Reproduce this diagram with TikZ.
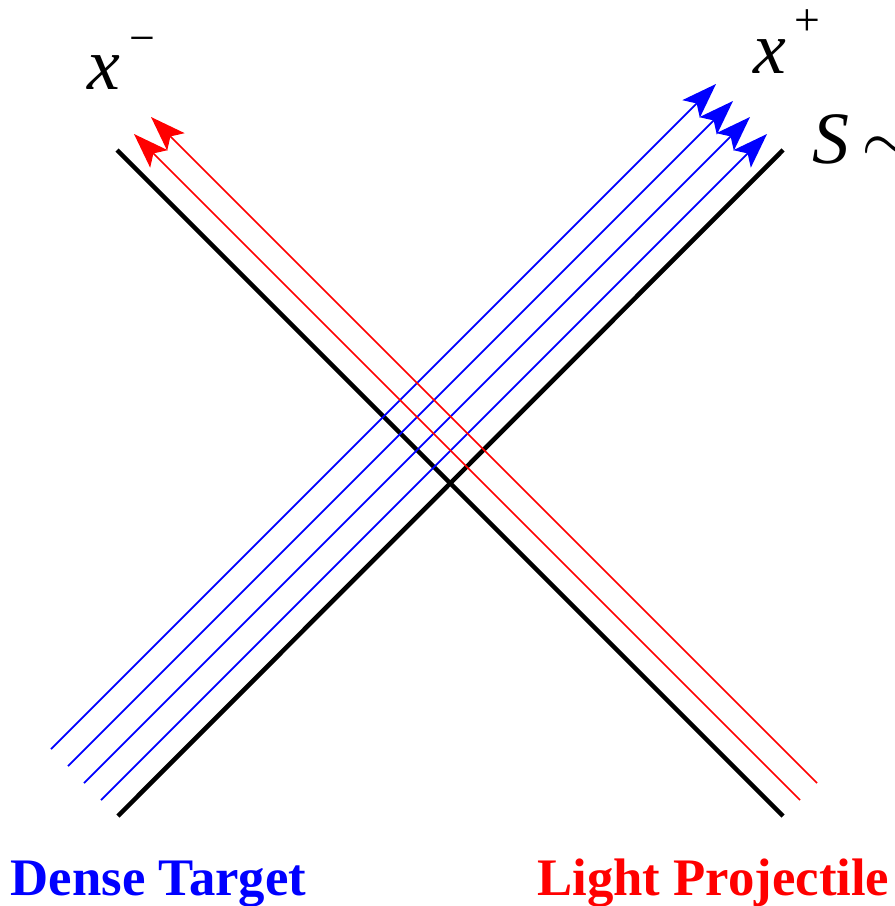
\documentclass[tikz,border=0pt]{standalone}
\usepackage{fontspec}
\setmainfont{Liberation Serif}
\usetikzlibrary{arrows.meta}
\definecolor{target}{RGB}{0,0,255}
\definecolor{projectile}{RGB}{255,0,0}

\begin{document}
\begin{tikzpicture}[
    x=0.01cm, y=-0.01cm,
    cone/.style={line width=1.3pt, color=black},
    targetray/.style={line width=0.5pt, color=target,
                      -{Stealth[length=10pt,width=7pt,inset=2.2pt]}},
    projray/.style={line width=0.5pt, color=projectile,
                    -{Stealth[length=10pt,width=7pt,inset=2.2pt]}},
    axislabel/.style={font=\fontsize{21}{21}\selectfont, inner sep=0pt,
                      anchor=base west},
    caption/.style={font=\fontsize{15}{15}\selectfont\bfseries,
                    inner sep=0pt},
]
\useasboundingbox (0,0) rectangle (895,906);

% ==========================================================
% Light-cone axes
% ==========================================================
\draw[cone] (118,816) -- (783,150);
\draw[cone] (117,150) -- (783,816);

% -------- Dense target: rays along x^+ -----------
\draw[targetray] (51,749)  -- (716,84);
\draw[targetray] (68,766)  -- (733,101);
\draw[targetray] (84,783)  -- (750,117);
\draw[targetray] (101,800) -- (767,134);

% -------- Light projectile: rays along x^- -----------
\draw[projray] (800,800) -- (134,134);
\draw[projray] (817,783) -- (151,117);

% ==========================================================
% Labels
% ==========================================================
\node[axislabel] (xminus) at (87,90)
    {\textit{x}\hspace{0.09cm}\raisebox{0.36cm}{\fontsize{13}{13}\selectfont −}};
\node[axislabel] (xplus) at (753,73)
    {\textit{x}\hspace{0.08cm}\raisebox{0.37cm}{\fontsize{13}{13}\selectfont +}};
\node[axislabel] (action) at (812,163)
    {\textit{S}\hspace{0.12cm}$\sim$};

\node[caption, text=target, anchor=base west] (dense) at (10,895)
    {Dense Target};
\node[caption, text=projectile, anchor=base east] (light) at (890,895)
    {Light Projectile};

\end{tikzpicture}
\end{document}
